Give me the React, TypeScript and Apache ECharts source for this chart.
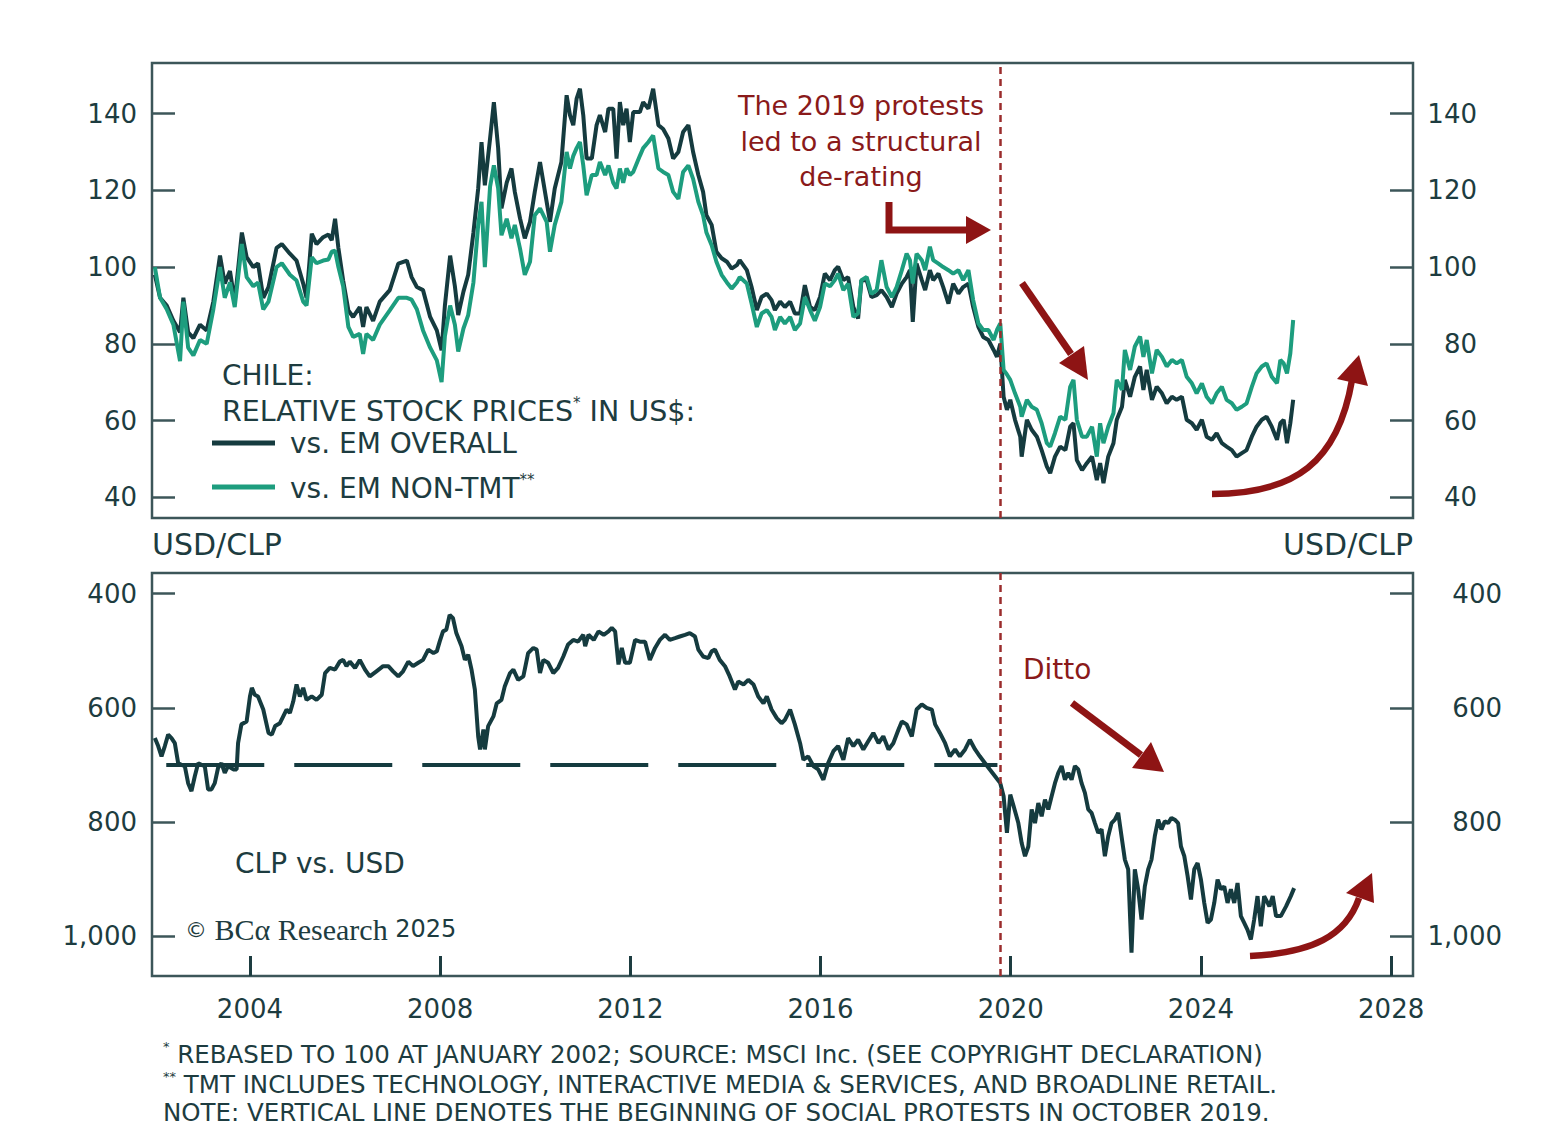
import React, { useEffect, useRef } from "react";
import * as echarts from "echarts";

// ---------- DATA ----------
const stockDates = [
  2002.00, 2002.11, 2002.25, 2002.39, 2002.53, 2002.60, 2002.70, 2002.81, 2002.95, 2003.09,
  2003.23, 2003.37, 2003.47, 2003.58, 2003.68, 2003.83, 2003.93, 2004.07, 2004.17, 2004.28,
  2004.39, 2004.56, 2004.67, 2004.84, 2004.98, 2005.12, 2005.19, 2005.30, 2005.40, 2005.54,
  2005.65, 2005.72, 2005.79, 2005.86, 2005.96, 2006.07, 2006.17, 2006.31, 2006.38, 2006.45,
  2006.59, 2006.73, 2006.94, 2007.12, 2007.30, 2007.40, 2007.51, 2007.64, 2007.79, 2007.93,
  2008.03,
  2008.10, 2008.21, 2008.31, 2008.38, 2008.49, 2008.59, 2008.70, 2008.80, 2008.87, 2008.94,
  2009.05, 2009.13, 2009.22, 2009.29, 2009.40, 2009.50, 2009.57, 2009.68, 2009.78, 2009.89,
  2009.99, 2010.10, 2010.24, 2010.31, 2010.41, 2010.55, 2010.66, 2010.73, 2010.80, 2010.87,
  2010.94, 2011.01, 2011.08, 2011.19, 2011.29, 2011.36, 2011.47, 2011.54, 2011.64, 2011.71,
  2011.78, 2011.85, 2011.92, 2011.99, 2012.06, 2012.20, 2012.27, 2012.38, 2012.48, 2012.59,
  2012.69, 2012.80, 2012.90, 2013.01, 2013.11, 2013.22, 2013.32, 2013.43, 2013.53, 2013.60,
  2013.71, 2013.81, 2013.92, 2014.03, 2014.13, 2014.24,
  2014.30, 2014.45, 2014.55, 2014.66, 2014.76, 2014.87, 2014.97, 2015.04, 2015.15, 2015.25,
  2015.36, 2015.46, 2015.57, 2015.67, 2015.78, 2015.88, 2015.99, 2016.09, 2016.20, 2016.30,
  2016.37, 2016.48, 2016.58, 2016.69, 2016.79, 2016.86, 2016.97, 2017.07, 2017.18, 2017.28,
  2017.39, 2017.50, 2017.60, 2017.71, 2017.81, 2017.88, 2017.94, 2018.02, 2018.13, 2018.20,
  2018.30, 2018.37, 2018.48, 2018.58, 2018.69, 2018.79, 2018.90, 2019.00, 2019.11, 2019.21,
  2019.32, 2019.42, 2019.53, 2019.64, 2019.71, 2019.78,
  2019.85, 2019.92, 2019.99, 2020.09, 2020.20, 2020.23, 2020.34, 2020.44, 2020.55, 2020.65,
  2020.76, 2020.83, 2020.93, 2021.04, 2021.15, 2021.25, 2021.32, 2021.39, 2021.50, 2021.60,
  2021.71, 2021.81, 2021.88, 2021.95, 2022.05, 2022.16, 2022.23, 2022.34, 2022.40, 2022.51,
  2022.61, 2022.72, 2022.79, 2022.86, 2022.97, 2023.07, 2023.18, 2023.28, 2023.39, 2023.49,
  2023.60, 2023.70, 2023.81, 2023.91, 2024.02, 2024.12, 2024.23, 2024.33, 2024.44, 2024.54,
  2024.65, 2024.75, 2024.86, 2024.96, 2025.07, 2025.17, 2025.28, 2025.38, 2025.49, 2025.60,
  2025.67, 2025.74, 2025.81, 2025.88, 2025.94,
];

const emOverall = [
  98, 92, 90, 86, 83, 92, 83, 81.5, 85, 83.5,
  91, 103, 95.7, 99, 91, 109, 102.6, 100, 101, 92,
  94.8, 105, 106, 103.5, 101.7, 95.7, 92, 108.7, 106, 107.8,
  108.5, 107, 112.6, 105, 96.5, 88.7, 87, 89.6, 84.4, 89.6,
  86, 91, 94, 100.9, 101.7, 97.4, 94.8, 94, 87, 83.5,
  78.3,
  90, 103, 95, 87.5, 93.6, 98, 109, 120.5, 132.6, 121.3,
  133.5, 143, 131, 115.3, 122, 125.7, 119.6, 112.7, 107.5, 111.8,
  119.6, 127.4, 117, 111.8, 120.5, 127.4, 144.8, 139.6, 137, 143.9,
  146.5, 139.6, 128.3, 128.3, 137, 139.6, 135.2, 141.3, 141.3, 128.3,
  143, 137, 141.3, 132.6, 140.4, 140.4, 143, 141.3, 146.5, 137,
  136, 133.5, 128.3, 130, 135.2, 137, 130, 124, 119.6, 113.5,
  111, 104, 102.3, 101.4, 99.6, 100.5,
  101.8, 99.2, 94.8, 88.8, 92.2, 93.1, 91.4, 88.8, 91, 89.6,
  91, 87.9, 87.9, 95.3, 89.6, 88.8, 92.2, 98.3, 96.6, 99.2,
  100.1, 96.6, 97.4, 89.6, 86.6, 96.6, 96.6, 92.2, 92.7, 94,
  92.2, 89.6, 93.1, 95.7, 97.4, 99.2, 85.7, 100.9, 96.6, 94,
  99.2, 96.6, 98.3, 94.8, 90.5, 95.7, 93.1, 94.8, 95.7, 89.6,
  84.4, 81.8, 81, 78.4, 76.6, 80,
  66.2, 62.8, 65.4, 60.2, 55.8, 50.6, 60.2, 57.6, 55.8, 52.3,
  48, 46.3, 50.6, 53.2, 52.3, 58.4, 59.3, 49.7, 47.1, 48.9,
  50.6, 44.5, 48.9, 43.7, 50.6, 54.1, 60.2, 63.6, 70.6, 66.2,
  71.4, 74.1, 68, 73.2, 65.4, 68.8, 67.1, 64.5, 66.2, 65.4,
  66.2, 60.2, 59.3, 57.6, 60.2, 55.8, 55, 56.7, 54.1, 53.2,
  52.3, 50.6, 51.5, 52.3, 55.8, 58.4, 60.2, 61, 58.4, 55,
  59.3, 60.2, 54.1, 59.3, 65.4,
];

const emNonTmt = [
  100, 92, 89, 85, 75.5, 91, 79, 77, 81, 80,
  89, 100, 92, 96, 89.6, 106, 97.4, 95, 96, 89,
  91, 100, 101, 98, 96.5, 91, 90, 102.6, 101, 101.7,
  102, 104, 104.3, 100, 95, 84.4, 81.8, 82.6, 77.4, 82.6,
  81, 85, 88.7, 92, 92, 91.5, 89, 83.5, 79, 75.7,
  70,
  82, 90, 85, 78, 84, 87.5, 96, 111, 117, 100,
  121, 126.5, 120.5, 108.3, 112.6, 107.5, 111, 104.8, 98, 101.4,
  113.5, 115.3, 111.8, 104, 111, 117, 130, 125.7, 129, 131,
  132.6, 126.5, 118.7, 124, 124, 127.4, 124, 126.5, 122, 120.5,
  125.7, 122, 125.7, 124, 124.8, 129, 131, 132.6, 134.3, 125.7,
  124.8, 124, 119.6, 117.8, 124.8, 126.5, 123, 117, 113.5, 109,
  105.7, 101.4, 98, 96, 94.4, 96,
  97.4, 95.7, 90.5, 84.4, 87.9, 88.8, 87, 83.6, 87, 85.3,
  87, 83.6, 85.3, 92.2, 88.8, 86, 89.6, 95.7, 95, 96.6,
  98.3, 94, 95.7, 87, 88, 96.6, 97.4, 93, 94, 101.8,
  94.8, 92.2, 94.8, 99.2, 103.5, 101.8, 95.7, 103.5, 101.8, 99.2,
  105.3, 101.8, 100.9, 100, 99.2, 98.3, 99.2, 96.6, 99.2, 91.4,
  85.3, 83.6, 83.6, 81, 83.6, 85.3,
  73.2, 72, 70.6, 67.1, 63.6, 61, 65.4, 63.6, 62.8, 59.3,
  54.1, 53.2, 56.7, 61, 60.2, 68.8, 70.6, 60.2, 55.8, 55.8,
  58.4, 50.6, 59.3, 54.1, 58.4, 61.9, 70.6, 68, 78.4, 73.2,
  79.3, 81.9, 76.6, 81, 72.3, 78.4, 76.6, 74.1, 75.8, 74.9,
  75.8, 71.4, 69.7, 67.1, 69.7, 66.2, 64.5, 67.1, 68.8, 65.4,
  64.5, 62.8, 63.6, 64.5, 68.8, 72.3, 74.1, 74.9, 71.4, 69.7,
  75.8, 74.9, 72.3, 77.5, 86.2,
];

const fxDates = [
  2002.00, 2002.07, 2002.14, 2002.21, 2002.28, 2002.35, 2002.42, 2002.49, 2002.56, 2002.63,
  2002.70, 2002.77, 2002.84, 2002.91, 2002.98, 2003.05, 2003.12, 2003.19, 2003.26, 2003.33,
  2003.40, 2003.47, 2003.54, 2003.65, 2003.72, 2003.75, 2003.82, 2003.93, 2004.00, 2004.04,
  2004.10, 2004.17, 2004.28, 2004.39, 2004.46, 2004.53, 2004.63, 2004.70, 2004.77, 2004.84,
  2004.91, 2004.98, 2005.05, 2005.12, 2005.19, 2005.30, 2005.40, 2005.51, 2005.58, 2005.68,
  2005.79, 2005.89, 2005.96, 2006.03, 2006.10, 2006.21, 2006.31, 2006.42, 2006.52, 2006.66,
  2006.80, 2006.91, 2007.01, 2007.12, 2007.22, 2007.33, 2007.43, 2007.54, 2007.64, 2007.75,
  2007.86, 2007.93, 2007.99, 2008.06, 2008.13, 2008.20, 2008.27, 2008.34, 2008.45, 2008.52,
  2008.59, 2008.66, 2008.73, 2008.80, 2008.84, 2008.91, 2008.94, 2009.01, 2009.12, 2009.19,
  2009.29, 2009.36, 2009.47, 2009.54, 2009.64, 2009.75, 2009.85, 2009.96, 2010.03, 2010.10,
  2010.17, 2010.27, 2010.38, 2010.48, 2010.59, 2010.69, 2010.80, 2010.90, 2011.01, 2011.05,
  2011.12, 2011.23, 2011.33, 2011.44, 2011.54, 2011.61, 2011.68, 2011.75, 2011.82, 2011.89,
  2011.99, 2012.10, 2012.20, 2012.31, 2012.41, 2012.52, 2012.62, 2012.73, 2012.83, 2012.94,
  2013.04, 2013.15, 2013.25, 2013.36, 2013.43, 2013.53, 2013.64, 2013.71, 2013.78, 2013.88,
  2013.99, 2014.09, 2014.20, 2014.27, 2014.38, 2014.48, 2014.59, 2014.69, 2014.80, 2014.87,
  2014.97, 2015.08, 2015.18, 2015.25, 2015.36, 2015.46, 2015.57, 2015.64, 2015.74, 2015.85,
  2015.95, 2016.06, 2016.16, 2016.27, 2016.37, 2016.48, 2016.58, 2016.69, 2016.79, 2016.90,
  2017.00, 2017.11, 2017.22, 2017.32, 2017.43, 2017.53, 2017.64, 2017.71, 2017.81, 2017.92,
  2018.02, 2018.13, 2018.23, 2018.34, 2018.41, 2018.51, 2018.62, 2018.72, 2018.83, 2018.93,
  2019.04, 2019.14, 2019.25, 2019.35, 2019.46, 2019.56, 2019.67, 2019.78, 2019.85, 2019.92,
  2019.99, 2020.06, 2020.16, 2020.23, 2020.30, 2020.37, 2020.44, 2020.51, 2020.58, 2020.65,
  2020.72, 2020.79, 2020.86, 2020.93, 2021.00, 2021.07, 2021.14, 2021.21, 2021.28, 2021.35,
  2021.42, 2021.49, 2021.56, 2021.63, 2021.70, 2021.77, 2021.84, 2021.91, 2021.98, 2022.05,
  2022.12, 2022.19, 2022.26, 2022.33, 2022.40, 2022.47, 2022.54, 2022.61, 2022.68, 2022.75,
  2022.82, 2022.89, 2022.96, 2023.03, 2023.10, 2023.17, 2023.24, 2023.31, 2023.38, 2023.45,
  2023.52, 2023.58, 2023.65, 2023.72, 2023.79, 2023.86, 2023.93, 2024.00, 2024.07, 2024.14,
  2024.21, 2024.28, 2024.35, 2024.42, 2024.49, 2024.56, 2024.63, 2024.70, 2024.77, 2024.84,
  2024.91, 2024.98, 2025.05, 2025.12, 2025.19, 2025.26, 2025.33, 2025.44, 2025.51, 2025.58,
  2025.68, 2025.79, 2025.89, 2025.96,
];

const usdClp = [
  653, 667, 685, 667, 647, 653, 662, 697, 700, 702,
  732, 746, 720, 697, 700, 702, 743, 743, 732, 705,
  697, 714, 702, 708, 708, 662, 629, 624, 580, 565,
  577, 580, 603, 644, 647, 632, 627, 615, 603, 609,
  589, 559, 580, 565, 586, 580, 586, 577, 539, 530,
  533, 519, 516, 527, 519, 530, 516, 533, 545, 536,
  527, 527, 536, 545, 536, 519, 527, 521, 516, 498,
  504, 501, 484, 466, 463, 437, 443, 469, 492, 516,
  507, 533, 568, 650, 673, 638, 673, 632, 615, 592,
  586, 562, 539, 533, 551, 545, 504, 495, 498, 539,
  516, 521, 539, 530, 510, 489, 481, 484, 472, 492,
  472, 481, 466, 472, 466, 460, 466, 524, 495, 521,
  521, 481, 484, 484, 516, 495, 481, 472, 481, 478,
  475, 472, 469, 475, 498, 510, 513, 501, 498, 516,
  527, 545, 568, 554, 559, 551, 559, 580, 592, 580,
  603, 618, 627, 621, 603, 629, 662, 691, 685, 702,
  708, 726, 697, 676, 667, 691, 653, 667, 656, 673,
  659, 644, 662, 650, 673, 662, 638, 624, 629, 650,
  603, 594, 600, 603, 629, 644, 662, 685, 673, 685,
  673, 656, 673, 685, 697, 708, 720, 732, 755, 819,
  752, 772, 802, 837, 860, 843, 778, 802, 767, 790,
  761, 778, 755, 732, 714, 702, 726, 714, 726, 702,
  708, 732, 749, 778, 784, 802, 819, 813, 860, 825,
  802, 796, 784, 825, 866, 883, 1029, 883, 918, 971,
  913, 883, 866, 825, 796, 813, 799, 802, 793, 796,
  802, 843, 860, 895, 936, 883, 872, 901, 942, 977,
  971, 942, 901, 918, 913, 942, 918, 942, 907, 965,
  977, 989, 1006, 971, 930, 983, 930, 948, 930, 965,
  965, 948, 930, 916,
];

const stockTicks = [40, 60, 80, 100, 120, 140];
const fxTicks = [400, 600, 800, 1000];
const yearTicks = [2004, 2008, 2012, 2016, 2020, 2024, 2028];
const protestDate = 2019.79;
const fxReference = 700;
const fxReferenceSpan = [2002.24, 2019.72];

// ---------- STYLE ----------
const DARK = "#153b3f";
const GREEN = "#1d9d7e";
const TEXT = "#1d3c40";
const FRAME = "#3c5659";
const RED = "#8e1414";
const VLINE = "#9b2c2c";
const SANS = "'DejaVu Sans', sans-serif";
const SERIF = "'Liberation Serif', 'DejaVu Serif', serif";

const pairs = (xs: number[], ys: number[]) => {
  const n = Math.min(xs.length, ys.length);
  const out: number[][] = [];
  for (let i = 0; i < n; i++) out.push([xs[i], ys[i]]);
  return out;
};

const yAxisBase = (grid: number, pos: "left" | "right", ticks: number[], extra: any) => ({
  type: "value",
  gridIndex: grid,
  position: pos,
  axisLine: { show: false },
  splitLine: { show: false },
  axisTick: {
    show: true,
    inside: true,
    length: 23,
    customValues: ticks,
    lineStyle: { color: FRAME, width: 2.5 },
  },
  ...extra,
});

export default function App() {
  const ref = useRef<HTMLDivElement>(null);

  useEffect(() => {
    document.body.style.margin = "0";
    const chart = echarts.init(ref.current!, null, { renderer: "svg" });

    const labelStyle = { color: TEXT, fontSize: 26, fontFamily: SANS };
    const fmt = (v: number) => v.toLocaleString("en-US");
    const footRich = {
      a: { fill: TEXT, fontSize: 24.5, fontFamily: SANS, lineHeight: 28 },
      s: { fill: TEXT, fontSize: 13, fontFamily: SANS, lineHeight: 28, verticalAlign: "top" },
    };

    const option: any = {
      animation: false,
      backgroundColor: "#ffffff",
      grid: [
        { left: 152, top: 63, width: 1261, height: 455, show: true, borderColor: FRAME, borderWidth: 2.5, backgroundColor: "transparent" },
        { left: 152, top: 573, width: 1261, height: 403, show: true, borderColor: FRAME, borderWidth: 2.5, backgroundColor: "transparent" },
      ],
      xAxis: [
        {
          type: "value", gridIndex: 0, min: 2001.94, max: 2028.46,
          axisLine: { show: false }, axisTick: { show: false }, axisLabel: { show: false }, splitLine: { show: false },
        },
        {
          type: "value", gridIndex: 1, min: 2001.94, max: 2028.46,
          axisLine: { show: false }, splitLine: { show: false },
          axisTick: { show: true, inside: true, length: 20, customValues: yearTicks, lineStyle: { color: TEXT, width: 3 } },
          axisLabel: { ...labelStyle, margin: 20, customValues: yearTicks, formatter: (v: number) => String(v) },
        },
      ],
      yAxis: [
        yAxisBase(0, "left", stockTicks, {
          min: 34.6, max: 153.2,
          axisLabel: { ...labelStyle, margin: 15, customValues: stockTicks },
        }),
        yAxisBase(0, "right", stockTicks, {
          min: 34.6, max: 153.2,
          axisLabel: { ...labelStyle, margin: 64, align: "right", customValues: stockTicks },
        }),
        yAxisBase(1, "left", fxTicks, {
          min: 363.7, max: 1070, inverse: true,
          axisLabel: { ...labelStyle, margin: 15, customValues: fxTicks, formatter: fmt },
        }),
        yAxisBase(1, "right", fxTicks, {
          min: 363.7, max: 1070, inverse: true,
          axisLabel: { ...labelStyle, margin: 89, align: "right", customValues: fxTicks, formatter: fmt },
        }),
      ],
      series: [
        {
          name: "vs. EM OVERALL",
          type: "line",
          xAxisIndex: 0, yAxisIndex: 0,
          data: pairs(stockDates, emOverall),
          showSymbol: false,
          lineStyle: { color: DARK, width: 4 },
          z: 3,
          markLine: {
            silent: true, symbol: ["none", "none"], label: { show: false },
            lineStyle: { color: VLINE, width: 2.5, type: [7, 5] },
            data: [{ xAxis: protestDate }],
          },
        },
        {
          name: "vs. EM NON-TMT",
          type: "line",
          xAxisIndex: 0, yAxisIndex: 0,
          data: pairs(stockDates, emNonTmt),
          showSymbol: false,
          lineStyle: { color: GREEN, width: 4 },
          z: 4,
        },
        {
          name: "USD/CLP",
          type: "line",
          xAxisIndex: 1, yAxisIndex: 2,
          data: pairs(fxDates, usdClp),
          showSymbol: false,
          lineStyle: { color: DARK, width: 4 },
          z: 4,
          markLine: {
            silent: true, symbol: ["none", "none"], label: { show: false },
            data: [
              { xAxis: protestDate, lineStyle: { color: VLINE, width: 2.5, type: [7, 5] } },
              [
                { coord: [fxReferenceSpan[0], fxReference], lineStyle: { color: DARK, width: 4, type: [98, 30] } },
                { coord: [fxReferenceSpan[1], fxReference] },
              ],
            ],
          },
        },
      ],
      graphic: [
        // legend / titles (top panel)
        { type: "text", left: 222, top: 361, style: { text: "CHILE:", fill: TEXT, font: `28px ${SANS}` } },
        {
          type: "text", left: 222, top: 395,
          style: {
            text: "{a|RELATIVE STOCK PRICES}{s|*}{a| IN US$:}",
            rich: {
              a: { fill: TEXT, fontSize: 28.5, fontFamily: SANS, lineHeight: 32 },
              s: { fill: TEXT, fontSize: 15, fontFamily: SANS, lineHeight: 32, verticalAlign: "top" },
            },
          },
        },
        { type: "line", shape: { x1: 212, y1: 443, x2: 275, y2: 443 }, style: { stroke: DARK, lineWidth: 5 } },
        { type: "text", left: 290, top: 429, style: { text: "vs. EM OVERALL", fill: TEXT, font: `28px ${SANS}` } },
        { type: "line", shape: { x1: 212, y1: 487, x2: 275, y2: 487 }, style: { stroke: GREEN, lineWidth: 5 } },
        {
          type: "text", left: 290, top: 472,
          style: {
            text: "{a|vs. EM NON-TMT}{s|**}",
            rich: {
              a: { fill: TEXT, fontSize: 28, fontFamily: SANS, lineHeight: 32 },
              s: { fill: TEXT, fontSize: 15, fontFamily: SANS, lineHeight: 32, verticalAlign: "top" },
            },
          },
        },
        // annotation top
        {
          type: "text", x: 861, y: 141,
          style: {
            text: "The 2019 protests\nled to a structural\nde-rating",
            fill: "#8a1a1a", font: `27px ${SANS}`, align: "center", verticalAlign: "middle", lineHeight: 35.5,
          },
        },
        { type: "polyline", shape: { points: [[889, 202], [889, 230], [968, 230]] }, style: { stroke: RED, lineWidth: 7, fill: "none" } },
        { type: "polygon", shape: { points: [[966, 216], [991, 230], [966, 244]] }, style: { fill: RED } },
        { type: "line", shape: { x1: 1022, y1: 283, x2: 1071, y2: 354 }, style: { stroke: RED, lineWidth: 7 } },
        { type: "polygon", shape: { points: [[1059, 363], [1088, 380], [1084, 346]] }, style: { fill: RED } },
        {
          type: "bezierCurve",
          shape: { x1: 1212, y1: 494, cpx1: 1295, cpy1: 494, cpx2: 1338, cpy2: 462, x2: 1352, y2: 380 },
          style: { stroke: RED, lineWidth: 6.5, fill: "none" },
        },
        { type: "polygon", shape: { points: [[1337, 379], [1359, 355], [1368, 386]] }, style: { fill: RED } },
        // labels between panels
        { type: "text", left: 152, top: 529, style: { text: "USD/CLP", fill: TEXT, font: `30px ${SANS}` } },
        { type: "text", right: 152, top: 529, style: { text: "USD/CLP", fill: TEXT, font: `30px ${SANS}` } },
        // bottom panel annotations
        { type: "text", left: 1023, top: 655, style: { text: "Ditto", fill: "#8a1a1a", font: `28px ${SANS}` } },
        { type: "line", shape: { x1: 1072, y1: 703, x2: 1141, y2: 755 }, style: { stroke: RED, lineWidth: 7 } },
        { type: "polygon", shape: { points: [[1132, 768], [1164, 772], [1151, 742]] }, style: { fill: RED } },
        {
          type: "bezierCurve",
          shape: { x1: 1250, y1: 956, cpx1: 1312, cpy1: 953, cpx2: 1346, cpy2: 936, x2: 1359, y2: 898 },
          style: { stroke: RED, lineWidth: 6.5, fill: "none" },
        },
        { type: "polygon", shape: { points: [[1346, 893], [1372, 873], [1374, 903]] }, style: { fill: RED } },
        { type: "text", left: 235, top: 849, style: { text: "CLP vs. USD", fill: TEXT, font: `28px ${SANS}` } },
        {
          type: "text", left: 185, top: 914,
          style: {
            text: "{c|©}{b| BCα Research }{n|2025}",
            rich: {
              c: { fill: TEXT, fontSize: 22, fontFamily: SANS, lineHeight: 36 },
              b: { fill: TEXT, fontSize: 30, fontFamily: SERIF, lineHeight: 36 },
              n: { fill: TEXT, fontSize: 24, fontFamily: SANS, lineHeight: 36 },
            },
          },
        },
        // footnotes
        {
          type: "text", left: 163, top: 1040,
          style: { text: "{s|*}{a| REBASED TO 100 AT JANUARY 2002; SOURCE: MSCI Inc. (SEE COPYRIGHT DECLARATION)}", rich: footRich },
        },
        {
          type: "text", left: 163, top: 1070,
          style: { text: "{s|**}{a| TMT INCLUDES TECHNOLOGY, INTERACTIVE MEDIA & SERVICES, AND BROADLINE RETAIL.}", rich: footRich },
        },
        {
          type: "text", left: 163, top: 1100,
          style: { text: "{a|NOTE: VERTICAL LINE DENOTES THE BEGINNING OF SOCIAL PROTESTS IN OCTOBER 2019.}", rich: footRich },
        },
      ],
    };

    chart.setOption(option);
    return () => chart.dispose();
  }, []);

  return <div ref={ref} style={{ width: 1565, height: 1144 }} />;
}
